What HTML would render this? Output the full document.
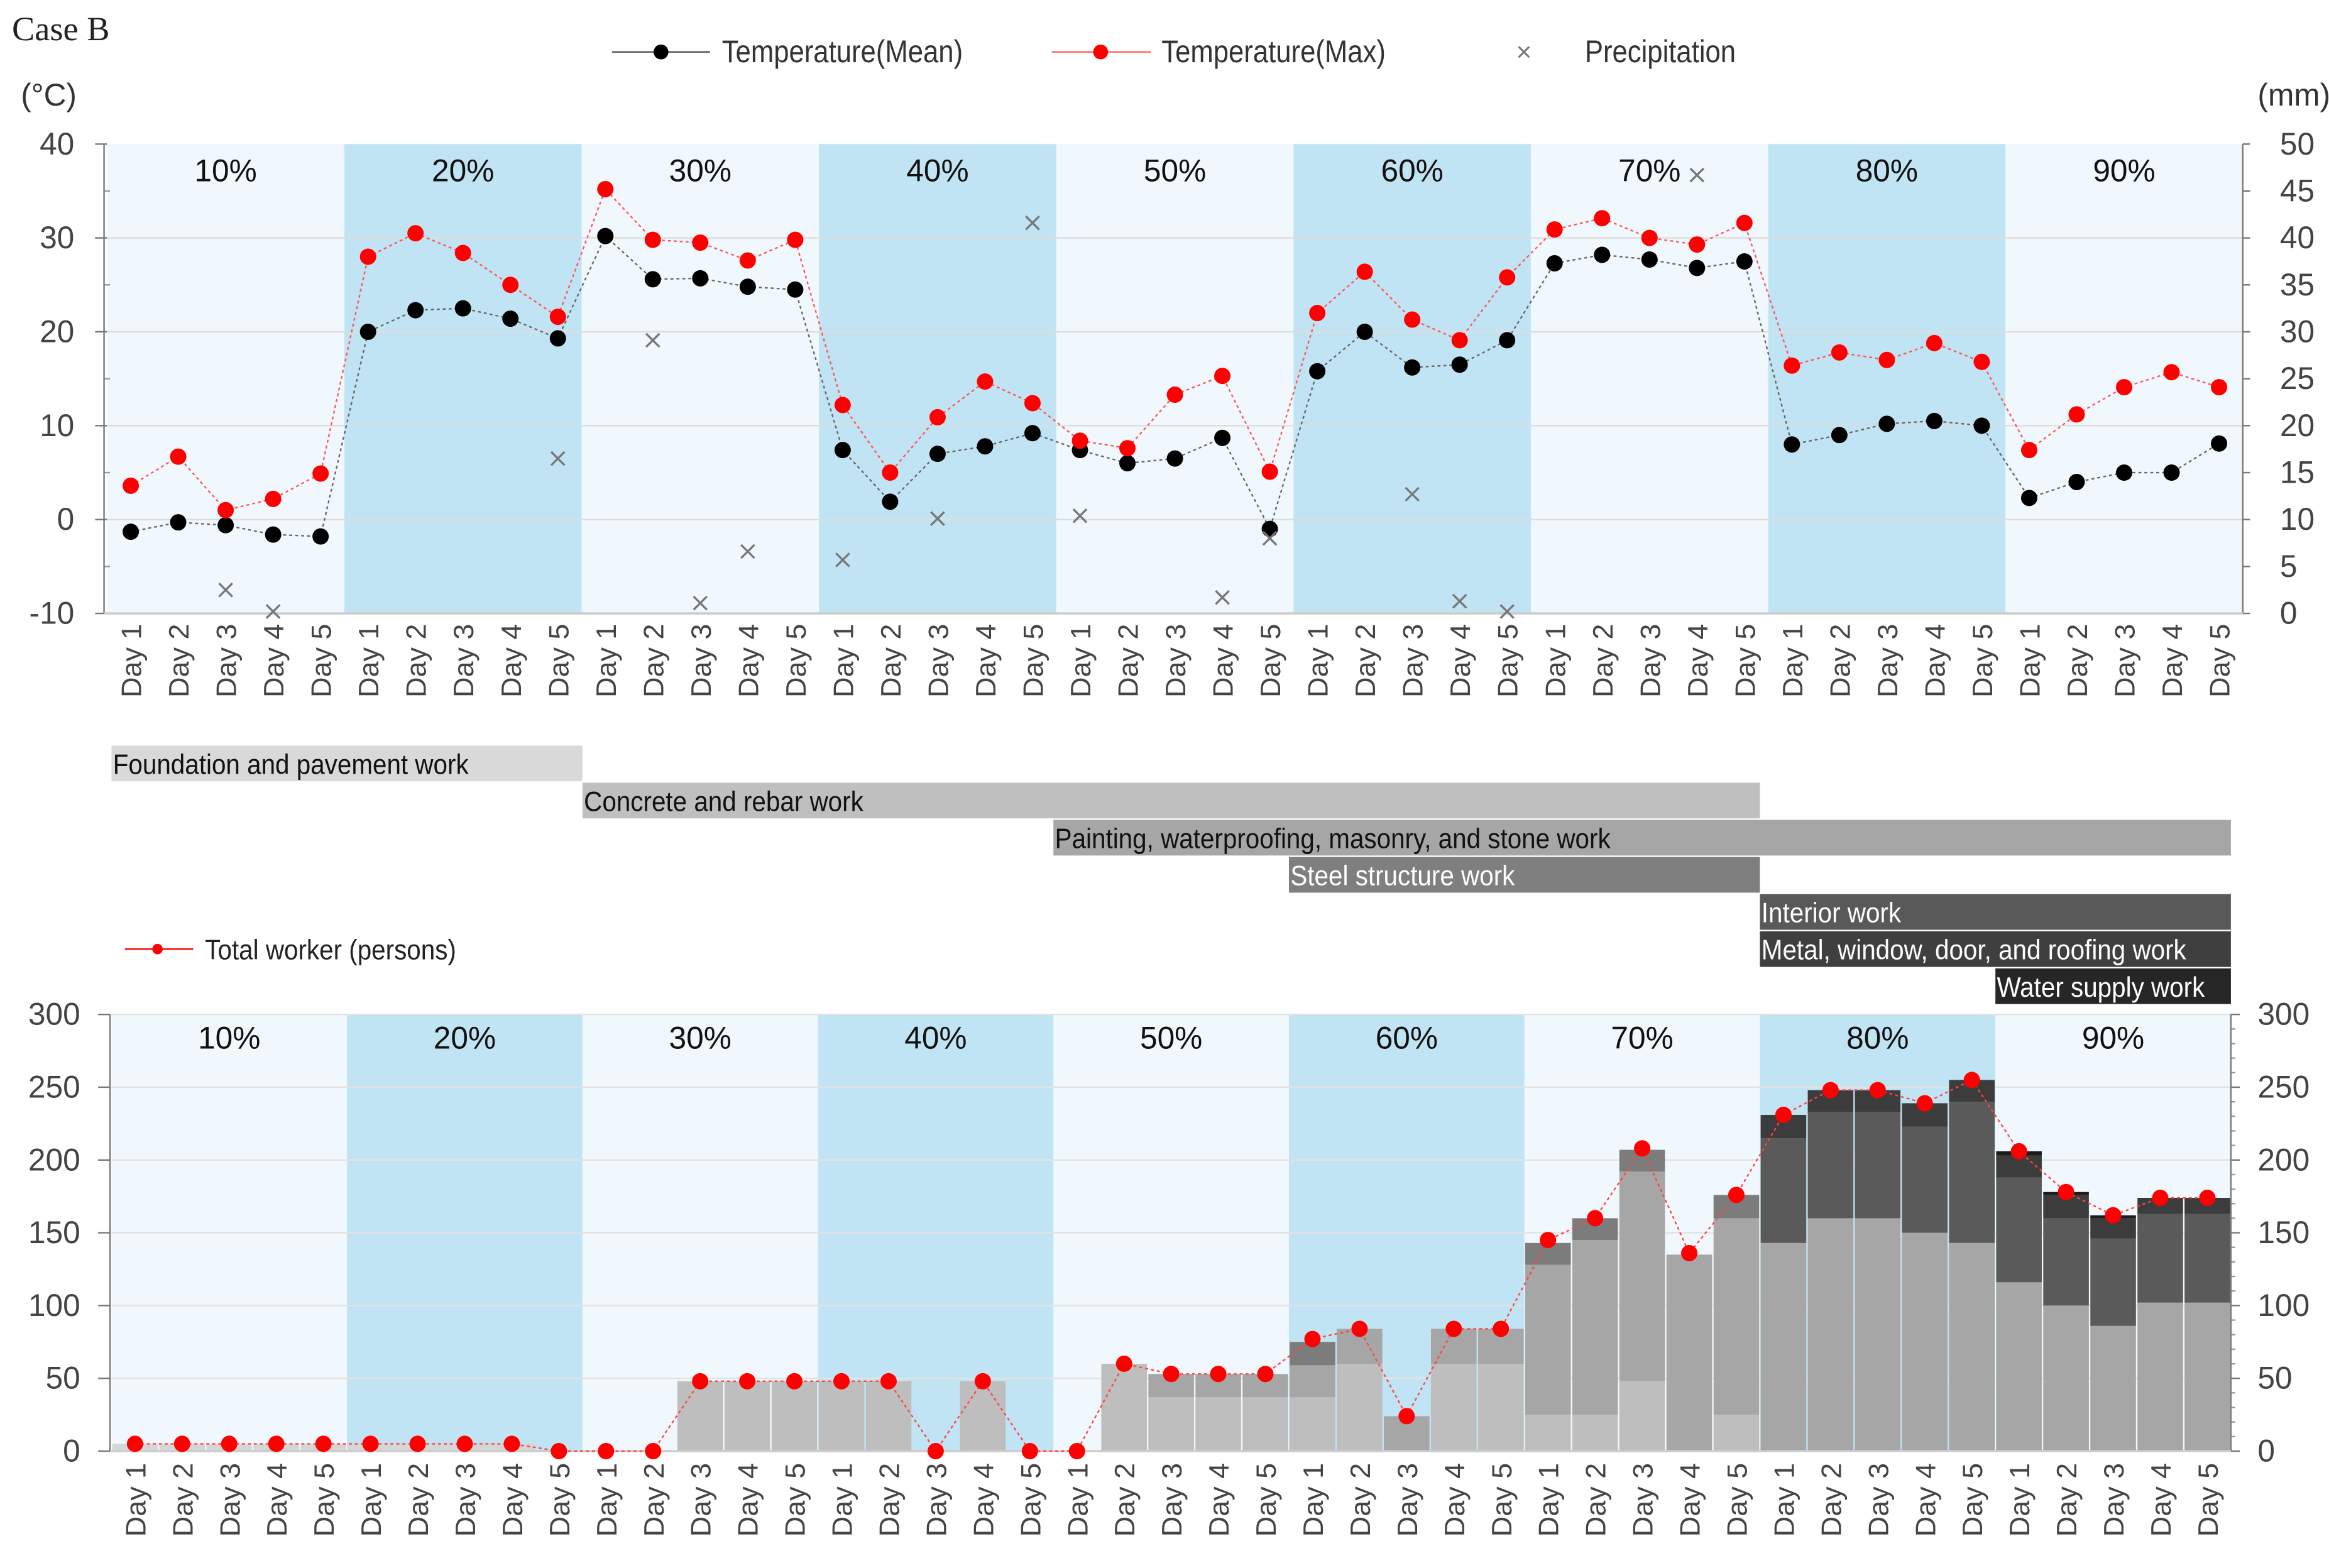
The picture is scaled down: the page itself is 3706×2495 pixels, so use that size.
<!DOCTYPE html>
<html><head><meta charset="utf-8"><style>
html,body{margin:0;padding:0;background:#fff;}
svg{display:block;font-family:"Liberation Sans",sans-serif;}
</style></head><body>
<svg id="chart" width="3706" height="2495" viewBox="0 0 1568 1055.7" xmlns="http://www.w3.org/2000/svg">
<text x="8" y="27" font-family="Liberation Serif, serif" font-size="23" fill="#222">Case B</text>
<g>
<line x1="412" y1="35" x2="478" y2="35" stroke="#555" stroke-width="1"/><circle cx="445" cy="35" r="5" fill="#000"/>
<text x="486" y="42" font-size="21" fill="#333" transform="translate(486 0) scale(0.88 1) translate(-486 0)">Temperature(Mean)</text>
<line x1="708" y1="35" x2="775" y2="35" stroke="#f66" stroke-width="1"/><circle cx="741" cy="35" r="5" fill="#f00"/>
<text x="782" y="42" font-size="21" fill="#333" transform="translate(782 0) scale(0.88 1) translate(-782 0)">Temperature(Max)</text>
<text x="1026" y="41" font-size="18" fill="#777" text-anchor="middle">×</text>
<text x="1067" y="42" font-size="21" fill="#333" transform="translate(1067 0) scale(0.88 1) translate(-1067 0)">Precipitation</text>
</g>
<text x="14" y="71" font-size="21" fill="#333">(°C)</text>
<text x="1520" y="71" font-size="21" fill="#333">(mm)</text>
<g id="topchart"></g><g id="gantt"></g><g id="botchart"></g>
<g>
<line x1="84" y1="639" x2="130" y2="639" stroke="#f00" stroke-width="1"/><circle cx="106" cy="639" r="3.5" fill="#f00"/>
<text x="138" y="646" font-size="19" fill="#222" transform="translate(138 0) scale(0.9 1) translate(-138 0)">Total worker (persons)</text>
</g>
</svg>
<script>
const groups=["10%","20%","30%","40%","50%","60%","70%","80%","90%"];
const dayLabels=["Day 1","Day 2","Day 3","Day 4","Day 5"];
const tempMean=[-1.3,-0.3,-0.6,-1.6,-1.8, 20,22.3,22.5,21.4,19.3, 30.2,25.6,25.7,24.8,24.5, 7.4,1.9,7,7.8,9.2, 7.4,6,6.5,8.7,-1, 15.8,20,16.2,16.5,19.1, 27.3,28.2,27.7,26.8,27.5, 8,9,10.2,10.5,10, 2.3,4,5,5,8.1];
const tempMax=[3.6,6.7,1,2.2,4.9, 28,30.5,28.4,25,21.6, 35.2,29.8,29.5,27.6,29.8, 12.2,5,10.9,14.7,12.4, 8.4,7.6,13.3,15.3,5.1, 22,26.4,21.3,19.1,25.8, 30.9,32.1,30,29.3,31.6, 16.4,17.8,17,18.8,16.8, 7.4,11.2,14.1,15.7,14.1];
const precip=[null,null,2.5,0.2,null, null,null,null,null,16.5, null,29.1,1.1,6.6,null, 5.7,null,10.1,null,41.6, 10.4,null,null,1.7,8, null,null,12.7,1.3,0.2, null,null,null,46.7,null, null,null,null,null,null, null,null,null,null,null];
const tempTicks=[-10,0,10,20,30,40];
const precipTicks=[0,5,10,15,20,25,30,35,40,45,50];
const wFoundation=[5,5,5,5,5,5,5,5,5,0, 0,0,0,0,0,0,0,0,0,0, 0,0,0,0,0,0,0,0,0,0, 0,0,0,0,0,0,0,0,0,0, 0,0,0,0,0];
const wConcrete=[0,0,0,0,0,0,0,0,0,0, 0,0,48,48,48,48,48,0,48,0, 0,60,37,37,37,37,60,0,60,60, 25,25,48,0,25,0,0,0,0,0, 0,0,0,0,0];
const wPainting=[0,0,0,0,0,0,0,0,0,0, 0,0,0,0,0,0,0,0,0,0, 0,0,16,16,16,22,24,24,24,24, 103,120,144,135,135,143,160,160,150,143, 116,100,86,102,102];
const wSteel=[0,0,0,0,0,0,0,0,0,0, 0,0,0,0,0,0,0,0,0,0, 0,0,0,0,0,16,0,0,0,0, 15,15,15,0,16,0,0,0,0,0, 0,0,0,0,0];
const wInterior=[0,0,0,0,0,0,0,0,0,0, 0,0,0,0,0,0,0,0,0,0, 0,0,0,0,0,0,0,0,0,0, 0,0,0,0,0,72,73,73,73,97, 72,60,60,61,61];
const wMetal=[0,0,0,0,0,0,0,0,0,0, 0,0,0,0,0,0,0,0,0,0, 0,0,0,0,0,0,0,0,0,0, 0,0,0,0,0,16,15,15,16,15, 15,16,14,11,11];
const wWater=[0,0,0,0,0,0,0,0,0,0, 0,0,0,0,0,0,0,0,0,0, 0,0,0,0,0,0,0,0,0,0, 0,0,0,0,0,0,0,0,0,0, 3,2,2,0,0];
const totalWorker=[5,5,5,5,5,5,5,5,5,0, 0,0,48,48,48,48,48,0,48,0, 0,60,53,53,53,77,84,24,84,84, 145,160,208,136,176,231,248,248,239,255, 206,178,162,174,174];
const workerTicks=[0,50,100,150,200,250,300];
const tasks=["Foundation and pavement work","Concrete and rebar work","Painting, waterproofing, masonry, and stone work","Steel structure work","Interior work","Metal, window, door, and roofing work","Water supply work"];
const taskStart=[0,10,20,25,35,35,40];
const taskEnd=[10,35,45,35,45,45,45];

const NS="http://www.w3.org/2000/svg";
function mk(p,t,a){const e=document.createElementNS(NS,t);for(const k in a)e.setAttribute(k,a[k]);p.appendChild(e);return e;}
const N=45, bandCols=["#f0f8fd","#c1e4f4"];

// ---- top chart ----
const topG=document.getElementById('topchart');


const tx0=72,tx1=1510,ty0=413,ty1=97;
const tX=i=>tx0+(i+0.5)*(tx1-tx0)/N;
const tY=v=>ty0-(v+10)/50*(ty0-ty1);
const pY=v=>ty0-v/50*(ty0-ty1);
const tbw=(tx1-tx0)/N;
groups.forEach((g,k)=>{
  const r=mk(topG,'rect',{x:tx0+k*5*tbw,y:ty1,width:5*tbw,height:ty0-ty1,fill:bandCols[k%2]});
  
  
  const t=mk(topG,'text',{x:tx0+(k*5+2.5)*tbw,y:122,'font-size':21,'text-anchor':'middle',fill:'#111'});
  t.textContent=g;
  
  
});
tempTicks.forEach(v=>{
  if(v>-10&&v<40)mk(topG,'line',{x1:tx0,x2:tx1,y1:tY(v),y2:tY(v),stroke:'#ddd','stroke-width':1});
  mk(topG,'line',{x1:64,x2:tx0,y1:tY(v),y2:tY(v),stroke:'#777'});
  const t=mk(topG,'text',{x:50,y:tY(v)+7,'font-size':21,'text-anchor':'end',fill:'#444'});
  t.textContent=v;
  
  
});
[-5,5,15,25,35].forEach(v=>mk(topG,'line',{x1:70,x2:74,y1:tY(v),y2:tY(v),stroke:'#999'}));
precipTicks.forEach(v=>{
  mk(topG,'line',{x1:tx1,x2:tx1+5,y1:pY(v),y2:pY(v),stroke:'#777'});
  const t=mk(topG,'text',{x:1535,y:pY(v)+7,'font-size':21,fill:'#444'});
  t.textContent=v;
  
  
});
mk(topG,'line',{x1:70,x2:70,y1:ty1,y2:ty0,stroke:'#777'});
mk(topG,'line',{x1:tx1,x2:tx1,y1:ty1,y2:ty0,stroke:'#777'});
mk(topG,'line',{x1:70,x2:tx1,y1:ty0,y2:ty0,stroke:'#ccc','stroke-width':1.5});
for(let i=0;i<N;i++){
  const x=tX(i),t=mk(topG,'text',{x:x+7,y:420,'font-size':19,'text-anchor':'end',fill:'#444',transform:`rotate(-90 ${x+7} 420)`});
  t.textContent=dayLabels[i%5];
  
  
}
function series(p,arr,yf,col,name){
  const pts=arr.map((v,i)=>tX(i)+','+yf(v)).join(' ');
  const l=mk(p,'polyline',{points:pts,fill:'none',stroke:col,'stroke-width':1,'stroke-dasharray':'2,2'});
  
  
  arr.forEach((v,i)=>{
    const c=mk(p,'circle',{cx:tX(i),cy:yf(v),r:5.5,fill:col==='#666'?'#000':'#f00'});
    
    
  });
}
series(topG,tempMean,tY,'#666','temp-mean');
series(topG,tempMax,tY,'#f55','temp-max');
precip.forEach((v,i)=>{
  if(v===null)return;
  const x=tX(i),y=pY(v),s=4.5;
  const g=mk(topG,'path',{d:`M${x-s},${y-s}L${x+s},${y+s}M${x+s},${y-s}L${x-s},${y+s}`,stroke:'#777','stroke-width':1.4});
  
  
});

// ---- gantt ----
const gantt=document.getElementById('gantt');


const bx0=75,bx1=1502,bbw=(bx1-bx0)/N;
const taskCols=["#d9d9d9","#bfbfbf","#a6a6a6","#7f7f7f","#595959","#3f3f3f","#262626"];
const taskText=["#111","#111","#111","#fff","#fff","#fff","#fff"];
tasks.forEach((t,k)=>{
  const y=502+k*25;
  const r=mk(gantt,'rect',{x:bx0+taskStart[k]*bbw,y:y,width:(taskEnd[k]-taskStart[k])*bbw,height:24,fill:taskCols[k]});
  
  
  const tx=bx0+taskStart[k]*bbw+1;
  const e=mk(gantt,'text',{x:tx,y:y+19,'font-size':19,fill:taskText[k],transform:`translate(${tx} 0) scale(0.9 1) translate(${-tx} 0)`});
  e.textContent=t;
  
  
});

// ---- bottom chart ----
const botG=document.getElementById('botchart');


const by0=977,by1=683;
const bX=i=>bx0+(i+0.5)*bbw;
const bY=v=>by0-v/300*(by0-by1);
groups.forEach((g,k)=>{
  const r=mk(botG,'rect',{x:bx0+k*5*bbw,y:by1,width:5*bbw,height:by0-by1,fill:bandCols[k%2]});
  
  
  const t=mk(botG,'text',{x:bx0+(k*5+2.5)*bbw,y:706,'font-size':21,'text-anchor':'middle',fill:'#111'});
  t.textContent=g;
  
  
});
workerTicks.forEach(v=>{
  if(v>0)mk(botG,'line',{x1:bx0,x2:bx1,y1:bY(v),y2:bY(v),stroke:'#e2e2e2'});
  mk(botG,'line',{x1:66,x2:74,y1:bY(v),y2:bY(v),stroke:'#777'});
  mk(botG,'line',{x1:bx1,x2:bx1+6,y1:bY(v),y2:bY(v),stroke:'#777'});
  const t=mk(botG,'text',{x:54,y:bY(v)+7,'font-size':21,'text-anchor':'end',fill:'#444'});
  t.textContent=v;
  
  
  const t2=mk(botG,'text',{x:1520,y:bY(v)+7,'font-size':21,fill:'#444'});
  t2.textContent=v;
  
  
});
for(let v=10;v<300;v+=10){if(v%50)mk(botG,'line',{x1:bx1,x2:bx1+3,y1:bY(v),y2:bY(v),stroke:'#999'});}
mk(botG,'line',{x1:74,x2:74,y1:by1,y2:by0,stroke:'#777'});
mk(botG,'line',{x1:bx1,x2:bx1,y1:by1,y2:by0,stroke:'#777'});
const layers=[wFoundation,wConcrete,wPainting,wSteel,wInterior,wMetal,wWater];
const layerCols=["#d6d6d6","#bebebe","#a6a6a6","#7c7c7c","#5a5a5a","#3c3c3c","#1c1c1c"];
const layerNames=["foundation","concrete","painting","steel","interior","metal","water"];
for(let i=0;i<N;i++){
  let acc=0;
  layers.forEach((arr,k)=>{
    const v=arr[i];if(!v)return;
    const r=mk(botG,'rect',{x:bx0+i*bbw+0.5,y:bY(acc+v),width:bbw-1,height:bY(acc)-bY(acc+v),fill:layerCols[k]});
    
    
    acc+=v;
  });
}
mk(botG,'line',{x1:74,x2:bx1,y1:by0,y2:by0,stroke:'#ccc','stroke-width':1.5});
const wl=mk(botG,'polyline',{points:totalWorker.map((v,i)=>bX(i)+','+bY(v)).join(' '),fill:'none',stroke:'#f44','stroke-width':1,'stroke-dasharray':'2,2'});


totalWorker.forEach((v,i)=>{
  const c=mk(botG,'circle',{cx:bX(i),cy:bY(v),r:5.5,fill:'#f00'});
  
  
});
for(let i=0;i<N;i++){
  const x=bX(i),t=mk(botG,'text',{x:x+7,y:985,'font-size':19,'text-anchor':'end',fill:'#444',transform:`rotate(-90 ${x+7} 985)`});
  t.textContent=dayLabels[i%5];
  
  
}
</script>
</body></html>
